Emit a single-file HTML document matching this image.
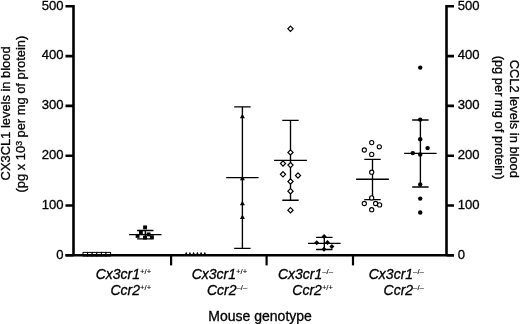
<!DOCTYPE html>
<html><head><meta charset="utf-8"><style>
html,body{margin:0;padding:0;background:#fff;width:520px;height:324px;overflow:hidden}
svg{display:block;will-change:transform}
text{font-family:"Liberation Sans",sans-serif;fill:#000;stroke:#000;stroke-width:0.3px}
</style></head><body>
<svg width="520" height="324" viewBox="0 0 520 324">
<rect width="520" height="324" fill="#fff"/>
<rect x="83.00" y="252.4" width="4.6" height="3.6" fill="#fff" stroke="#000" stroke-width="1.0"/>
<rect x="87.60" y="252.4" width="4.6" height="3.6" fill="#fff" stroke="#000" stroke-width="1.0"/>
<rect x="92.20" y="252.4" width="4.6" height="3.6" fill="#fff" stroke="#000" stroke-width="1.0"/>
<rect x="96.80" y="252.4" width="4.6" height="3.6" fill="#fff" stroke="#000" stroke-width="1.0"/>
<rect x="101.40" y="252.4" width="4.6" height="3.6" fill="#fff" stroke="#000" stroke-width="1.0"/>
<rect x="106.00" y="252.4" width="4.6" height="3.6" fill="#fff" stroke="#000" stroke-width="1.0"/>
<path d="M186.2 251.80L188.30 256.00H184.10Z" fill="#000"/>
<path d="M189.92 251.80L192.02 256.00H187.82Z" fill="#000"/>
<path d="M193.64 251.80L195.74 256.00H191.54Z" fill="#000"/>
<path d="M197.35999999999999 251.80L199.46 256.00H195.26Z" fill="#000"/>
<path d="M201.07999999999998 251.80L203.18 256.00H198.98Z" fill="#000"/>
<path d="M204.79999999999998 251.80L206.90 256.00H202.70Z" fill="#000"/>
<path d="M73.5 5.0V255.3" stroke="#000" stroke-width="2.6" fill="none"/>
<path d="M446.5 5.0V255.3" stroke="#000" stroke-width="2.6" fill="none"/>
<path d="M65.5 255.3H454" stroke="#000" stroke-width="2.6" fill="none"/>
<path d="M65.5 255.30H73.5M446.5 255.30H454" stroke="#000" stroke-width="2.6" fill="none"/>
<path d="M65.5 205.50H73.5M446.5 205.50H454" stroke="#000" stroke-width="2.6" fill="none"/>
<path d="M65.5 155.70H73.5M446.5 155.70H454" stroke="#000" stroke-width="2.6" fill="none"/>
<path d="M65.5 105.90H73.5M446.5 105.90H454" stroke="#000" stroke-width="2.6" fill="none"/>
<path d="M65.5 56.10H73.5M446.5 56.10H454" stroke="#000" stroke-width="2.6" fill="none"/>
<path d="M65.5 6.30H73.5M446.5 6.30H454" stroke="#000" stroke-width="2.6" fill="none"/>
<path d="M171.1 255.3V265.4" stroke="#000" stroke-width="2.2" fill="none"/>
<path d="M266.6 255.3V265.4" stroke="#000" stroke-width="2.2" fill="none"/>
<path d="M353.0 255.3V265.4" stroke="#000" stroke-width="2.2" fill="none"/>
<path d="M145.3 230.5V238.9M137.10000000000002 230.5H153.5M137.10000000000002 238.9H153.5M129.10000000000002 234.6H161.5" stroke="#000" stroke-width="1.35" fill="none"/>
<rect x="143.15" y="225.45" width="3.9" height="3.9" fill="#000"/>
<rect x="138.95" y="230.45" width="3.9" height="3.9" fill="#000"/>
<rect x="146.65" y="232.45" width="3.9" height="3.9" fill="#000"/>
<rect x="135.65" y="233.95" width="3.9" height="3.9" fill="#000"/>
<rect x="143.05" y="235.65" width="3.9" height="3.9" fill="#000"/>
<rect x="149.95" y="235.25" width="3.9" height="3.9" fill="#000"/>
<path d="M242.4 106.9V248.4M234.20000000000002 106.9H250.6M234.20000000000002 248.4H250.6M226.20000000000002 177.6H258.6" stroke="#000" stroke-width="1.35" fill="none"/>
<path d="M242.4 113.70L244.90 118.30H239.90Z" fill="#000"/>
<path d="M242.4 175.70L244.90 180.30H239.90Z" fill="#000"/>
<path d="M242.4 200.70L244.90 205.30H239.90Z" fill="#000"/>
<path d="M242.4 214.50L244.90 219.10H239.90Z" fill="#000"/>
<path d="M290.5 120.4V200.2M282.3 120.4H298.7M282.3 200.2H298.7M274.1 160.4H306.9" stroke="#000" stroke-width="1.35" fill="none"/>
<path d="M290.5 26.20L293.10 28.8L290.5 31.40L287.90 28.8Z" fill="#fff" stroke="#000" stroke-width="1.2"/>
<path d="M290.5 149.80L293.10 152.4L290.5 155.00L287.90 152.4Z" fill="#fff" stroke="#000" stroke-width="1.2"/>
<path d="M283 160.90L285.60 163.5L283 166.10L280.40 163.5Z" fill="#fff" stroke="#000" stroke-width="1.2"/>
<path d="M290.5 162.50L293.10 165.1L290.5 167.70L287.90 165.1Z" fill="#fff" stroke="#000" stroke-width="1.2"/>
<path d="M283 171.70L285.60 174.3L283 176.90L280.40 174.3Z" fill="#fff" stroke="#000" stroke-width="1.2"/>
<path d="M298 172.90L300.60 175.5L298 178.10L295.40 175.5Z" fill="#fff" stroke="#000" stroke-width="1.2"/>
<path d="M290.5 178.90L293.10 181.5L290.5 184.10L287.90 181.5Z" fill="#fff" stroke="#000" stroke-width="1.2"/>
<path d="M290.5 188.60L293.10 191.2L290.5 193.80L287.90 191.2Z" fill="#fff" stroke="#000" stroke-width="1.2"/>
<path d="M290.5 207.60L293.10 210.2L290.5 212.80L287.90 210.2Z" fill="#fff" stroke="#000" stroke-width="1.2"/>
<path d="M324.3 237.3V249.5M316.1 237.3H332.5M316.1 249.5H332.5M308.0 243.3H340.6" stroke="#000" stroke-width="1.35" fill="none"/>
<path d="M324.1 233.90L326.60 236.4L324.1 238.90L321.60 236.4Z" fill="#000"/>
<path d="M316.7 240.20L319.20 242.7L316.7 245.20L314.20 242.7Z" fill="#000"/>
<path d="M327.5 240.00L330.00 242.5L327.5 245.00L325.00 242.5Z" fill="#000"/>
<path d="M331.9 244.00L334.40 246.5L331.9 249.00L329.40 246.5Z" fill="#000"/>
<path d="M324.0 246.80L326.50 249.3L324.0 251.80L321.50 249.3Z" fill="#000"/>
<path d="M372.5 159.3V199.6M364.3 159.3H380.7M364.3 199.6H380.7M356.1 179.2H388.9" stroke="#000" stroke-width="1.35" fill="none"/>
<circle cx="371.7" cy="142.6" r="2.1" fill="#fff" stroke="#000" stroke-width="1.1"/>
<circle cx="379.3" cy="146.8" r="2.1" fill="#fff" stroke="#000" stroke-width="1.1"/>
<circle cx="364.3" cy="150" r="2.1" fill="#fff" stroke="#000" stroke-width="1.1"/>
<circle cx="371.7" cy="154.4" r="2.1" fill="#fff" stroke="#000" stroke-width="1.1"/>
<circle cx="371.7" cy="172.2" r="2.1" fill="#fff" stroke="#000" stroke-width="1.1"/>
<circle cx="371.7" cy="197.9" r="2.1" fill="#fff" stroke="#000" stroke-width="1.1"/>
<circle cx="364.3" cy="203.5" r="2.1" fill="#fff" stroke="#000" stroke-width="1.1"/>
<circle cx="375.6" cy="203.5" r="2.1" fill="#fff" stroke="#000" stroke-width="1.1"/>
<circle cx="379.6" cy="204.9" r="2.1" fill="#fff" stroke="#000" stroke-width="1.1"/>
<circle cx="371.7" cy="209.7" r="2.1" fill="#fff" stroke="#000" stroke-width="1.1"/>
<path d="M420.4 120.0V187.0M412.2 120.0H428.59999999999997M412.2 187.0H428.59999999999997M404.2 153.4H436.59999999999997" stroke="#000" stroke-width="1.35" fill="none"/>
<circle cx="420.2" cy="67.6" r="2.2" fill="#000"/>
<circle cx="420.2" cy="119.6" r="2.2" fill="#000"/>
<circle cx="420.2" cy="139.3" r="2.2" fill="#000"/>
<circle cx="427.6" cy="148.1" r="2.2" fill="#000"/>
<circle cx="412.8" cy="153.1" r="2.2" fill="#000"/>
<circle cx="420.2" cy="154.5" r="2.2" fill="#000"/>
<circle cx="420.2" cy="184.4" r="2.2" fill="#000"/>
<circle cx="420.2" cy="198.6" r="2.2" fill="#000"/>
<circle cx="420.2" cy="212.5" r="2.2" fill="#000"/>
<g font-size="13.1"><text x="63.6" y="258.55" text-anchor="end">0</text><text x="63.6" y="208.75" text-anchor="end">100</text><text x="63.6" y="158.95" text-anchor="end">200</text><text x="63.6" y="109.15" text-anchor="end">300</text><text x="63.6" y="59.35" text-anchor="end">400</text><text x="63.6" y="9.55" text-anchor="end">500</text><text x="457.8" y="258.55">0</text><text x="457.8" y="208.75">100</text><text x="457.8" y="158.95">200</text><text x="457.8" y="109.15">300</text><text x="457.8" y="59.35">400</text><text x="457.8" y="9.55">500</text></g>
<g font-size="14"><text x="151.2" y="278.7" text-anchor="end" font-style="italic">Cx3cr1<tspan font-size="7.7" dy="-4.4" font-style="normal" stroke-width="0.1">+/+</tspan></text><text x="151.2" y="294.7" text-anchor="end" font-style="italic">Ccr2<tspan font-size="7.7" dy="-4.4" font-style="normal" stroke-width="0.1">+/+</tspan></text><text x="247.2" y="278.7" text-anchor="end" font-style="italic">Cx3cr1<tspan font-size="7.7" dy="-4.4" font-style="normal" stroke-width="0.1">+/+</tspan></text><text x="247.2" y="294.7" text-anchor="end" font-style="italic">Ccr2<tspan font-size="7.7" dy="-4.4" font-style="normal" stroke-width="0.1">–/–</tspan></text><text x="333.0" y="278.7" text-anchor="end" font-style="italic">Cx3cr1<tspan font-size="7.7" dy="-4.4" font-style="normal" stroke-width="0.1">–/–</tspan></text><text x="333.0" y="294.7" text-anchor="end" font-style="italic">Ccr2<tspan font-size="7.7" dy="-4.4" font-style="normal" stroke-width="0.1">+/+</tspan></text><text x="423.8" y="278.7" text-anchor="end" font-style="italic">Cx3cr1<tspan font-size="7.7" dy="-4.4" font-style="normal" stroke-width="0.1">–/–</tspan></text><text x="423.8" y="294.7" text-anchor="end" font-style="italic">Ccr2<tspan font-size="7.7" dy="-4.4" font-style="normal" stroke-width="0.1">–/–</tspan></text></g>
<text x="260.1" y="320.9" font-size="14" text-anchor="middle">Mouse genotype</text>
<g font-size="12.9"><g transform="translate(9.5 113.4) rotate(-90)"><text x="0" y="0" text-anchor="middle">CX3CL1 levels in blood</text></g><g transform="translate(24.6 114.1) rotate(-90)"><text x="0" y="0" text-anchor="middle">(pg x 10<tspan font-size="8.6" dy="-2.5">3</tspan><tspan dy="2.5"> per mg of protein)</tspan></text></g><g transform="translate(510.2 118.8) rotate(90)"><text x="0" y="0" text-anchor="middle">CCL2 levels in blood</text></g><g transform="translate(494.8 117.6) rotate(90)"><text x="0" y="0" text-anchor="middle">(pg per mg of protein)</text></g></g>
</svg>
</body></html>
